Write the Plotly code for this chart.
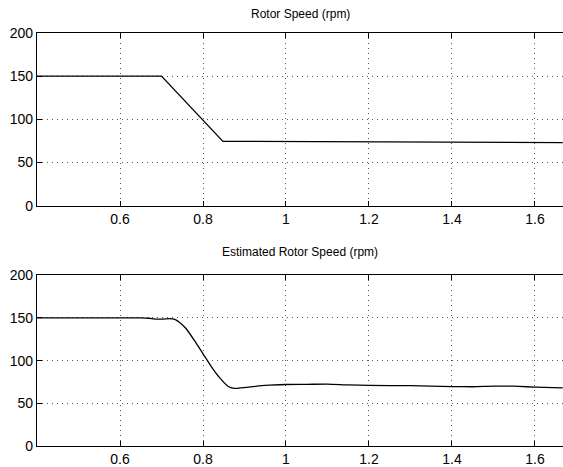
import plotly.graph_objects as go

# Rotor speed (actual)
t_actual = [0.40, 0.60, 0.70, 0.848, 1.0, 1.2, 1.4, 1.6, 1.667]
speed_actual = [150, 150, 150, 74.5, 74.3, 74.0, 73.6, 73.2, 73.0]

# Estimated rotor speed
t_est = [0.40, 0.60, 0.65, 0.67, 0.68, 0.69, 0.70, 0.71, 0.72, 0.73, 0.74, 0.75, 0.76,
         0.78, 0.80, 0.82, 0.84, 0.86, 0.875, 0.89, 0.92, 0.95, 1.0, 1.05, 1.1,
         1.15, 1.2, 1.3, 1.4, 1.45, 1.5, 1.55, 1.6, 1.667]
speed_est = [150, 150, 150, 149.6, 149, 148.6, 148.5, 148.8, 149.2, 148.5, 146, 142, 137,
             123, 108, 93, 80, 70, 67.5, 68, 69.5, 71, 72, 72.2, 72.5,
             71.5, 71, 70.6, 69.6, 69.4, 70, 70, 69, 68]

titles = ["Rotor Speed (rpm)", "Estimated Rotor Speed (rpm)"]
y_ticks = [0, 50, 100, 150, 200]
x_ticks = [0.6, 0.8, 1.0, 1.2, 1.4, 1.6]
x_tick_labels = ["0.6", "0.8", "1", "1.2", "1.4", "1.6"]

fig = go.Figure()
fig.add_trace(go.Scatter(x=t_actual, y=speed_actual, mode="lines",
                         line=dict(color="black", width=1.3), xaxis="x", yaxis="y",
                         showlegend=False))
fig.add_trace(go.Scatter(x=t_est, y=speed_est, mode="lines", line_shape="spline",
                         line=dict(color="black", width=1.3, smoothing=0.6),
                         xaxis="x2", yaxis="y2", showlegend=False))

axfont = dict(family="Liberation Sans, Arial, sans-serif", size=14, color="black")
common_x = dict(range=[0.4, 1.6675], tickvals=x_ticks, ticktext=x_tick_labels,
                showgrid=True, gridcolor="#555", griddash="1px,4px", gridwidth=1,
                showline=True, linecolor="black", linewidth=1.2, mirror="ticks",
                ticks="inside", ticklen=5, tickcolor="black", tickfont=axfont,
                zeroline=False, fixedrange=True)
common_y = dict(range=[0, 200], tickvals=y_ticks,
                showgrid=True, gridcolor="#555", griddash="1px,4px", gridwidth=1,
                showline=True, linecolor="black", linewidth=1.2,
                ticks="inside", ticklen=5, tickcolor="black", tickfont=axfont,
                zeroline=False, fixedrange=True)

fig.update_layout(
    width=563, height=467,
    margin=dict(l=37, r=0, t=33, b=18),
    paper_bgcolor="white", plot_bgcolor="white",
    xaxis=dict(domain=[0, 1], anchor="y", **common_x),
    yaxis=dict(domain=[0.582, 1.0], anchor="x", **common_y),
    xaxis2=dict(domain=[0, 1], anchor="y2", **common_x),
    yaxis2=dict(domain=[0.0, 0.4135], anchor="x2", **common_y),
    annotations=[
        dict(text=titles[0], x=0.5, y=1.0, xref="paper", yref="paper",
             xanchor="center", yanchor="bottom", yshift=10, showarrow=False,
             font=dict(family="Liberation Sans, Arial, sans-serif", size=12, color="black")),
        dict(text=titles[1], x=0.5, y=0.4135, xref="paper", yref="paper",
             xanchor="center", yanchor="bottom", yshift=14, showarrow=False,
             font=dict(family="Liberation Sans, Arial, sans-serif", size=12, color="black")),
    ],
)

fig.write_html("out.html")
